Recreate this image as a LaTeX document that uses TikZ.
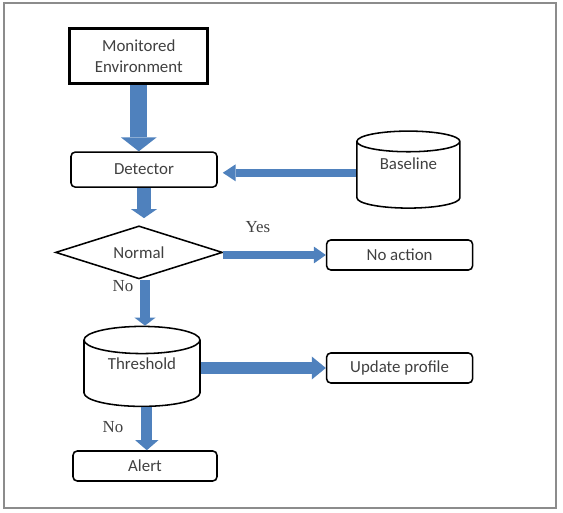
\documentclass[tikz,border=0pt]{standalone}
\usepackage{fontspec}
\setmainfont{Carlito}
\newfontfamily\answerfont{Liberation Serif}
\usetikzlibrary{shapes.geometric,arrows.meta}
\definecolor{flowblue}{RGB}{79,129,189}
\definecolor{textgray}{RGB}{64,64,64}
\definecolor{framegray}{RGB}{140,140,140}

\begin{document}
\begin{tikzpicture}[
    box/.style={draw, rectangle, rounded corners=3pt, line width=1.1pt, minimum width=3.65cm, minimum height=0.75cm, align=center, text=textgray, font=\fontsize{12}{14}\selectfont},
    source/.style={draw, rectangle, line width=2.2pt, minimum width=3.45cm, minimum height=1.375cm, align=center, text=textgray, font=\fontsize{12}{15}\selectfont},
    store/.style={draw, cylinder, shape border rotate=90, aspect=0.31, line width=1.1pt, anchor=shape center, font=\fontsize{12}{14}\selectfont},
    storetext/.style={text=textgray, font=\fontsize{12}{14}\selectfont},
    decision/.style={draw, diamond, aspect=3.15, minimum width=4.175cm, minimum height=1.325cm, inner sep=0pt, line width=1.1pt, text=textgray, font=\fontsize{12}{14}\selectfont},
    answer/.style={text=textgray, font=\answerfont\fontsize{12}{14}\selectfont},
    flow/.style n args={3}{draw=flowblue, line width=#1, -{Triangle[width=#2, length=#3, line width=0pt]}}]

    \useasboundingbox (0,0) rectangle (14.075,-12.825);
    \draw[framegray, line width=1pt] (0.1,-0.075) rectangle (13.9,-12.7);

    % Nodes of the flow
    \node[source] (env) at (3.47,-1.41) {Monitored\\Environment};
    \node[box] (det) at (3.6,-4.24) [minimum height=0.875cm] {Detector};
    \node[store, minimum width=2.575cm, minimum height=1.925cm] (base) at (10.21,-4.24) {\phantom{Baseline}};
    \node[storetext] (basetext) at ([yshift=0.14cm]base.shape center) {Baseline};
    \node[decision] (normal) at (3.475,-6.31) {Normal};
    \node[box] (noact) at (9.99,-6.375) {No action};
    \node[store, minimum width=2.9cm, minimum height=2cm, aspect=0.35] (thresh) at (3.55,-9.16) {\phantom{Threshold}};
    \node[storetext] (threshtext) at ([yshift=0.07cm]thresh.shape center) {Threshold};
    \node[box] (update) at (9.99,-9.2) {Update profile};
    \node[box, minimum width=3.6cm] (alert) at (3.625,-11.65) {Alert};

    % Answers
    \node[answer] (yes) at (6.45,-5.675) {Yes};
    \node[answer] (no1) at (3.075,-7.15) {No};
    \node[answer] (no2) at (2.825,-10.675) {No};

    % Connect the nodes with block arrows
    \draw[flow={12pt}{25.6pt}{10pt}] (env.south) -- (env.south |- det.north);
    \draw[flow={5.7pt}{12.1pt}{9.2pt}, shorten >=0.125cm] ([yshift=-0.08cm]det.east -| base.west) -- ([yshift=-0.08cm]det.east);
    \draw[flow={10pt}{18.5pt}{6.4pt}, shorten >=0.175cm] (det.south) -- (det.south |- normal.north);
    \draw[flow={5pt}{12pt}{8.5pt}] (normal.east |- noact.west) -- (noact.west);
    \draw[flow={7.1pt}{15pt}{5.7pt}] ([xshift=0.15cm]normal.south) -- ([xshift=0.15cm]normal.south |- thresh.north);
    \draw[flow={8.5pt}{16.4pt}{10pt}] (thresh.east |- update.west) -- (update.west);
    \draw[flow={7.8pt}{16.4pt}{7.1pt}] ([xshift=0.12cm]thresh.south) -- ([xshift=0.12cm]thresh.south |- alert.north);
\end{tikzpicture}
\end{document}
